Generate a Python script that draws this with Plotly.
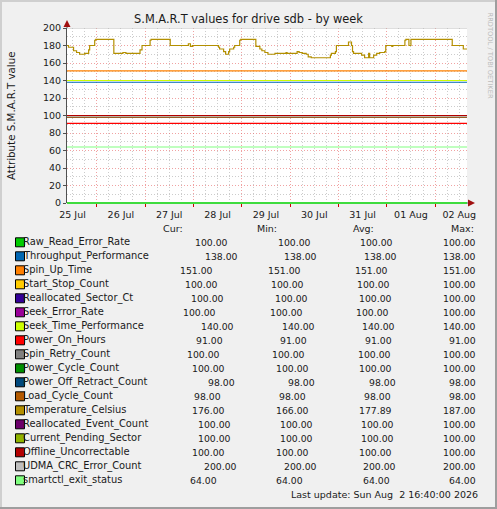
import plotly.graph_objects as go

# legend rows, in the order munin draws them
labels = [
    "Raw_Read_Error_Rate", "Throughput_Performance", "Spin_Up_Time", "Start_Stop_Count",
    "Reallocated_Sector_Ct", "Seek_Error_Rate", "Seek_Time_Performance", "Power_On_Hours",
    "Spin_Retry_Count", "Power_Cycle_Count", "Power_Off_Retract_Count", "Load_Cycle_Count",
    "Temperature_Celsius", "Reallocated_Event_Count", "Current_Pending_Sector",
    "Offline_Uncorrectable", "UDMA_CRC_Error_Count", "smartctl_exit_status",
]
cur = [100, 138, 151, 100, 100, 100, 140, 91, 100, 100, 98, 98, 176, 100, 100, 100, 200, 64]
mins = [100, 138, 151, 100, 100, 100, 140, 91, 100, 100, 98, 98, 166, 100, 100, 100, 200, 64]
avgs = [100, 138, 151, 100, 100, 100, 140, 91, 100, 100, 98, 98, 177.89, 100, 100, 100, 200, 64]
maxs = [100, 138, 151, 100, 100, 100, 140, 91, 100, 100, 98, 98, 187, 100, 100, 100, 200, 64]

# Temperature_Celsius is the only attribute that moves (steps)
temp_times = [
    "2026-07-25 09:00", "2026-07-25 10:00", "2026-07-25 12:30", "2026-07-25 14:00",
    "2026-07-25 15:30", "2026-07-25 18:00", "2026-07-25 20:00", "2026-07-25 20:30",
    "2026-07-25 23:00", "2026-07-25 23:30",
    "2026-07-26 08:30", "2026-07-26 13:00", "2026-07-26 14:30", "2026-07-26 21:30",
    "2026-07-26 22:30",
    "2026-07-27 02:30", "2026-07-27 03:00", "2026-07-27 12:30", "2026-07-27 21:30",
    "2026-07-27 22:30", "2026-07-27 23:30",
    "2026-07-28 12:30", "2026-07-28 13:00", "2026-07-28 15:00", "2026-07-28 16:00",
    "2026-07-28 17:30", "2026-07-28 18:00", "2026-07-28 20:00", "2026-07-28 20:30",
    "2026-07-28 23:00", "2026-07-28 23:30",
    "2026-07-29 07:00", "2026-07-29 09:00", "2026-07-29 10:00", "2026-07-29 11:30",
    "2026-07-29 13:00", "2026-07-29 16:30", "2026-07-29 22:00", "2026-07-29 22:30",
    "2026-07-30 03:30", "2026-07-30 04:30", "2026-07-30 06:00", "2026-07-30 08:00",
    "2026-07-30 09:00", "2026-07-30 10:30", "2026-07-30 20:00", "2026-07-30 20:30",
    "2026-07-30 22:30", "2026-07-30 23:00",
    "2026-07-31 05:00", "2026-07-31 06:30", "2026-07-31 07:00", "2026-07-31 07:30",
    "2026-07-31 11:30", "2026-07-31 13:00", "2026-07-31 15:00", "2026-07-31 15:30",
    "2026-07-31 17:30", "2026-07-31 19:00", "2026-07-31 20:30", "2026-07-31 23:00",
    "2026-07-31 23:30",
    "2026-08-01 02:30", "2026-08-01 03:00", "2026-08-01 09:00", "2026-08-01 09:30",
    "2026-08-01 11:00", "2026-08-01 12:00",
    "2026-08-02 08:30", "2026-08-02 14:00", "2026-08-02 16:00",
]
temp_values = [
    180, 178, 174, 172, 170, 171, 175, 180, 186, 187,
    171, 172, 171, 175, 180,
    186, 187, 180, 182, 179, 180,
    178, 176, 173, 170, 173, 176, 178, 180, 186, 187,
    179, 176, 174, 172, 170, 171, 172, 171,
    173, 172, 171, 170, 167, 166, 169, 171, 173, 180,
    184, 180, 173, 171, 169, 166, 171, 166, 169, 171, 172, 173, 180,
    179, 180, 186, 187, 180, 187,
    180, 176, 176,
]

colors = ["#00CC00", "#0066B3", "#FF8000", "#FFCC00", "#330099", "#990099", "#CCFF00", "#FF0000",
          "#808080", "#008F00", "#00487D", "#B35A00", "#B38F00", "#6B006B", "#8FB300", "#B30000",
          "#BEBEBE", "#80FF80"]

W, H = 497, 509
L, T, PW, PH = 67, 28, 400, 175
FONT = "DejaVu Sans"
INK = "#1A1A1A"


def px(x):
    return (x - L) / PW


def py(y):
    return (T + PH - y) / PH


fig = go.Figure()

for i, name in enumerate(labels):
    if name == "Temperature_Celsius":
        xs, ys = temp_times, temp_values
    else:
        xs, ys = [temp_times[0], temp_times[-1]], [cur[i], cur[i]]
    fig.add_trace(go.Scatter(
        x=xs, y=ys, mode="lines", name=name,
        line=dict(color=colors[i], width=1.2, shape="hv"),
        showlegend=False, hoverinfo="skip",
    ))

x_range = ["2026-07-25 09:15", "2026-08-02 15:50"]
major_grid = "rgba(230,100,100,0.6)"
minor_grid = "#CCCCCC"
dots = "1px,2px"

fig.update_layout(
    width=W, height=H,
    margin=dict(l=L, r=W - L - PW, t=T, b=H - T - PH, pad=0),
    paper_bgcolor="#F0F0F0",
    plot_bgcolor="#FFFFFF",
    font=dict(family=FONT, size=9.9, color=INK),
    title=dict(text="S.M.A.R.T values for drive sdb - by week", x=0.5, xanchor="center",
               y=1 - 19 / H, yanchor="middle", font=dict(family=FONT, size=11.4, color=INK)),
    xaxis=dict(
        type="date", range=x_range, tick0="2026-07-26", dtick=86400000,
        tickformat="%d %b", ticklabelmode="period",
        showgrid=True, gridcolor=major_grid, griddash=dots, gridwidth=1,
        ticks="outside", ticklen=3, tickcolor="#CC0000",
        zeroline=False, showline=False,
        minor=dict(dtick=21600000, tick0="2026-07-26", showgrid=True,
                   gridcolor=minor_grid, griddash=dots, gridwidth=1),
        tickfont=dict(size=9.5, color=INK),
    ),
    yaxis=dict(
        range=[0, 200], dtick=20, showgrid=True, gridcolor=major_grid,
        griddash=dots, gridwidth=1,
        minor=dict(dtick=10, showgrid=True, gridcolor=minor_grid, griddash=dots, gridwidth=1),
        zeroline=True, zerolinecolor="#3EDC3E", zerolinewidth=2,
        showline=True, linecolor="#505050", linewidth=1,
        ticks="outside", ticklen=3, tickcolor="#505050",
        tickfont=dict(size=9.5, color=INK),
    ),
)

shapes = []
annotations = []

# axis extensions and arrow heads
shapes.append(dict(type="line", xref="paper", yref="paper", x0=px(67), x1=px(67),
                   y0=1, y1=py(23), line=dict(color="#505050", width=1)))
shapes.append(dict(type="path", xref="paper", yref="paper",
                   path=f"M {px(63.5)} {py(27)} L {px(70.5)} {py(27)} L {px(67)} {py(20)} Z",
                   fillcolor="#A01010", line=dict(width=0)))
shapes.append(dict(type="line", xref="paper", yref="paper", x0=1, x1=px(471),
                   y0=0, y1=0, line=dict(color="#505050", width=1)))
shapes.append(dict(type="path", xref="paper", yref="paper",
                   path=f"M {px(468)} {py(199.5)} L {px(468)} {py(206.5)} L {px(475)} {py(203)} Z",
                   fillcolor="#A01010", line=dict(width=0)))

# image frame shading
shapes.append(dict(type="rect", xref="paper", yref="paper", x0=px(0), x1=px(2), y0=py(H), y1=py(0),
                   fillcolor="#CFCFCF", line=dict(width=0)))
shapes.append(dict(type="rect", xref="paper", yref="paper", x0=px(0), x1=px(W), y0=py(2), y1=py(0),
                   fillcolor="#CFCFCF", line=dict(width=0)))
shapes.append(dict(type="rect", xref="paper", yref="paper", x0=px(W - 2), x1=px(W), y0=py(H), y1=py(0),
                   fillcolor="#9E9E9E", line=dict(width=0)))
shapes.append(dict(type="rect", xref="paper", yref="paper", x0=px(0), x1=px(W), y0=py(H), y1=py(H - 2),
                   fillcolor="#9E9E9E", line=dict(width=0)))

annotations.append(dict(text="Attribute S.M.A.R.T value", xref="paper", yref="paper",
                        x=px(11), y=py(115), textangle=-90, showarrow=False,
                        xanchor="center", yanchor="middle", font=dict(size=10.3, color=INK)))
annotations.append(dict(text="RRDTOOL / TOBI OETIKER", xref="paper", yref="paper",
                        x=px(489.5), y=py(56), textangle=90, showarrow=False,
                        xanchor="center", yanchor="middle", font=dict(size=6.7, color="#BBBBBB")))

# legend table
for text, cx in [("Cur:", 173), ("Min:", 267), ("Avg:", 363), ("Max:", 462)]:
    annotations.append(dict(text=text, xref="paper", yref="paper", x=px(cx), y=py(228),
                            showarrow=False, xanchor="center", yanchor="middle",
                            font=dict(size=9.5)))

cur_right = [230, 240, 215, 220, 226, 218, 236, 225, 222, 227, 237, 223, 227, 233, 233, 227, 239, 219]
NUM = 9.3


def text_w(s):
    return sum((0.318 if c == "." else 0.636) * NUM for c in s)


for i, name in enumerate(labels):
    yc = 242.3 + 14 * i
    annotations.append(dict(text=name, xref="paper", yref="paper", x=px(20.5), y=py(yc),
                            showarrow=False, xanchor="left", yanchor="middle"))
    vals = [f"{v:.2f}" for v in (cur[i], mins[i], avgs[i], maxs[i])]
    gap = (478 - cur_right[i] - sum(text_w(v) for v in vals[1:])) / 3
    right = cur_right[i]
    for j, v in enumerate(vals):
        if j > 0:
            right = right + gap + text_w(v)
        annotations.append(dict(text=v, xref="paper", yref="paper", x=px(right), y=py(yc),
                                showarrow=False, xanchor="right", yanchor="middle",
                                font=dict(size=NUM)))

# colour boxes are drawn over the start of each label, as rrdtool does
for i in range(len(labels)):
    yc = 242.3 + 14 * i
    shapes.append(dict(type="rect", xref="paper", yref="paper", layer="above",
                       x0=px(15.5), x1=px(24.5), y0=py(yc + 4.5), y1=py(yc - 4.5),
                       fillcolor=colors[i], line=dict(color="#000000", width=1)))

annotations.append(dict(text="Last update: Sun Aug&nbsp; 2 16:40:00 2026",
                        xref="paper", yref="paper", x=px(480), y=py(494),
                        showarrow=False, xanchor="right", yanchor="middle", font=dict(size=9.5)))

fig.update_layout(shapes=shapes, annotations=annotations)

fig.write_html("out.html", config={"displayModeBar": False},
               post_script="document.body.style.margin='0px';")
